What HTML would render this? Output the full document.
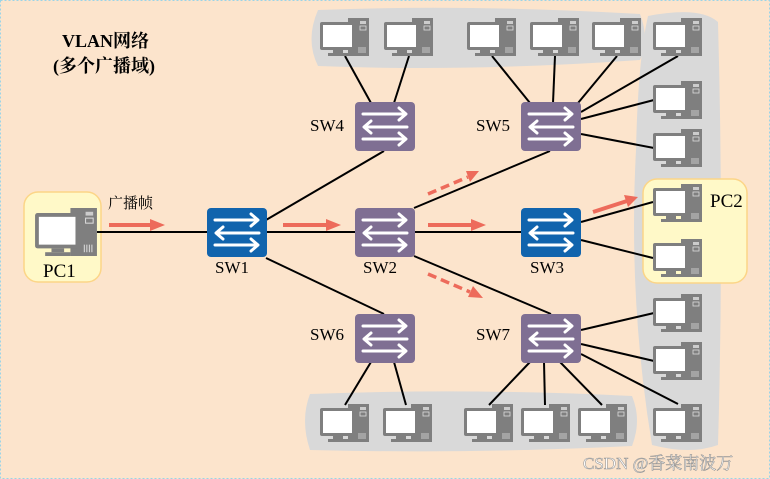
<!DOCTYPE html>
<html><head><meta charset="utf-8"><style>
html,body{margin:0;padding:0;background:#fce4cc;}
svg{display:block;}
text{font-family:"Liberation Serif","Noto Serif CJK SC",serif;}
</style></head><body>
<svg width="770" height="479" viewBox="0 0 770 479" xmlns="http://www.w3.org/2000/svg">
<defs>
<symbol id="pc" viewBox="0 0 49 38" width="49" height="38">
<rect x="28" y="0" width="21" height="38" fill="#7f7f7f"/>
<rect x="40" y="3" width="6" height="3" fill="#fff" opacity=".6"/>
<rect x="40" y="8" width="6" height="4" fill="none" stroke="#ddd" stroke-width=".8"/>
<g stroke="#ddd" stroke-width=".8"><line x1="39" y1="29" x2="39" y2="35"/><line x1="41" y1="29" x2="41" y2="35"/><line x1="43" y1="29" x2="43" y2="35"/><line x1="45" y1="29" x2="45" y2="35"/></g>
<rect x="0" y="4" width="35" height="28" rx="2" fill="#7f7f7f"/>
<rect x="3" y="7" width="29" height="22" fill="#fff"/>
<rect x="13" y="32" width="10" height="3" fill="#7f7f7f"/>
<rect x="8" y="35" width="20" height="3" fill="#7f7f7f"/>
</symbol>
<symbol id="sw" viewBox="0 0 60 50" width="60" height="50">
<g stroke="#fff" stroke-width="3" fill="none" stroke-linecap="round" stroke-linejoin="round">
<line x1="8" y1="12" x2="50" y2="12"/><polyline points="44,6 51,12 44,18"/>
<line x1="10" y1="25" x2="52" y2="25"/><polyline points="16,19 9,25 16,31"/>
<line x1="8" y1="37" x2="50" y2="37"/><polyline points="44,31 51,37 44,43"/>
</g>
</symbol>
</defs>
<rect x="0.5" y="0.5" width="769" height="478" fill="#fce4cc" stroke="#9ad4e8" stroke-dasharray="2,2"/>
<path d="M318 10 Q470 4 640 14 Q650 40 640 60 Q470 72 318 66 Q305 40 318 10Z" fill="#d9d9d9"/>
<path d="M648 16 Q700 6 718 22 Q724 240 718 445 Q690 455 652 445 Q628 300 636 150 Q638 60 648 16Z" fill="#d9d9d9"/>
<path d="M310 394 Q470 388 632 396 Q642 420 632 446 Q470 454 310 450 Q300 420 310 394Z" fill="#d9d9d9"/>
<rect x="24" y="192" width="77" height="90" rx="14" fill="#fff9c8" stroke="#fcd587" stroke-width="1.5"/>
<rect x="643" y="179" width="104" height="104" rx="14" fill="#fff9c8" stroke="#fcd587" stroke-width="1.5"/>
<g stroke="#000" stroke-width="2">
<line x1="97" y1="232" x2="385" y2="232"/><line x1="385" y1="232" x2="550" y2="232"/>
<line x1="266" y1="220" x2="384" y2="151"/><line x1="266" y1="258" x2="384" y2="314"/>
<line x1="414" y1="208" x2="550" y2="151"/><line x1="414" y1="256" x2="551" y2="314"/>
<line x1="581" y1="222" x2="653" y2="202"/><line x1="581" y1="240" x2="653" y2="258"/>
<line x1="345" y1="56" x2="371" y2="103"/><line x1="409" y1="56" x2="394" y2="103"/>
<line x1="492" y1="56" x2="530" y2="103"/><line x1="555" y1="56" x2="553" y2="103"/>
<line x1="617" y1="56" x2="578" y2="103"/><line x1="678" y1="56" x2="581" y2="112"/>
<line x1="581" y1="119" x2="654" y2="100"/><line x1="581" y1="134" x2="654" y2="148"/>
<line x1="581" y1="330" x2="654" y2="313"/><line x1="581" y1="344" x2="654" y2="361"/><line x1="581" y1="354" x2="678" y2="404"/>
<line x1="530" y1="362" x2="489" y2="405"/><line x1="544" y1="362" x2="545" y2="405"/><line x1="560" y1="362" x2="602" y2="405"/>
<line x1="371" y1="362" x2="345" y2="405"/><line x1="394" y1="362" x2="406" y2="405"/>
</g>
<use href="#pc" x="35" y="208" width="62" height="48"/>
<use href="#pc" x="320" y="18"/><use href="#pc" x="384" y="18"/>
<use href="#pc" x="467" y="18"/><use href="#pc" x="530" y="18"/><use href="#pc" x="592" y="18"/><use href="#pc" x="653" y="18"/>
<use href="#pc" x="653" y="81"/><use href="#pc" x="653" y="129"/>
<use href="#pc" x="653" y="184"/><use href="#pc" x="653" y="239"/>
<use href="#pc" x="653" y="294"/><use href="#pc" x="653" y="342"/><use href="#pc" x="653" y="404"/>
<use href="#pc" x="320" y="404"/><use href="#pc" x="383" y="404"/>
<use href="#pc" x="464" y="404"/><use href="#pc" x="521" y="404"/><use href="#pc" x="578" y="404"/>
<rect x="207" y="208" width="60" height="49" rx="4" fill="#1164ad"/><use href="#sw" x="207" y="208"/>
<rect x="521" y="208" width="60" height="49" rx="4" fill="#1164ad"/><use href="#sw" x="521" y="208"/>
<g fill="#7f6f93">
<rect x="355" y="208" width="60" height="49" rx="4"/><rect x="355" y="102" width="60" height="49" rx="4"/>
<rect x="521" y="102" width="60" height="49" rx="4"/><rect x="355" y="314" width="60" height="49" rx="4"/>
<rect x="521" y="314" width="60" height="49" rx="4"/>
</g>
<use href="#sw" x="355" y="208"/><use href="#sw" x="355" y="102"/><use href="#sw" x="521" y="102"/><use href="#sw" x="355" y="314"/><use href="#sw" x="521" y="314"/>
<g fill="#ed6b5b" stroke="#ed6b5b">
<line x1="109" y1="225" x2="152" y2="225" stroke-width="4"/><polygon points="150,219 165,225 150,231" stroke="none"/>
<line x1="283" y1="225" x2="328" y2="225" stroke-width="4"/><polygon points="326,219 341,225 326,231" stroke="none"/>
<line x1="428" y1="225" x2="473" y2="225" stroke-width="4"/><polygon points="471,219 486,225 471,231" stroke="none"/>
<line x1="593" y1="212" x2="627" y2="201" stroke-width="4"/><polygon points="624,195 638,197 628,207" stroke="none"/>
<line x1="428" y1="194" x2="468" y2="177" stroke-width="3.5" stroke-dasharray="9,5"/><polygon points="466,171 479,171 470,182" stroke="none"/>
<line x1="428" y1="274" x2="470" y2="292" stroke-width="3.5" stroke-dasharray="9,5"/><polygon points="473,286 483,298 468,297" stroke="none"/>
</g>
<g font-size="17" fill="#000">
<text x="43" y="277" font-size="19">PC1</text>
<text x="710" y="207" font-size="19">PC2</text>
<text x="215" y="273">SW1</text><text x="363" y="273">SW2</text><text x="530" y="273">SW3</text>
<text x="310" y="131">SW4</text><text x="476" y="131">SW5</text>
<text x="310" y="340">SW6</text><text x="476" y="340">SW7</text>
<text x="108" y="208" font-family="Liberation Sans,Noto Sans CJK SC,sans-serif" font-size="15">广播帧</text>
</g>
<g font-weight="bold" font-size="18" font-family="Liberation Serif,Noto Sans CJK SC,serif">
<text x="62" y="47">VLAN网络</text><text x="53" y="72">(多个广播域)</text>
</g>
<text x="583" y="469" font-family="Liberation Sans,Noto Sans CJK SC,sans-serif" font-size="17" fill="#ffffff" stroke="#999" stroke-width=".6">CSDN @香菜南波万</text>
</svg>
</body></html>
